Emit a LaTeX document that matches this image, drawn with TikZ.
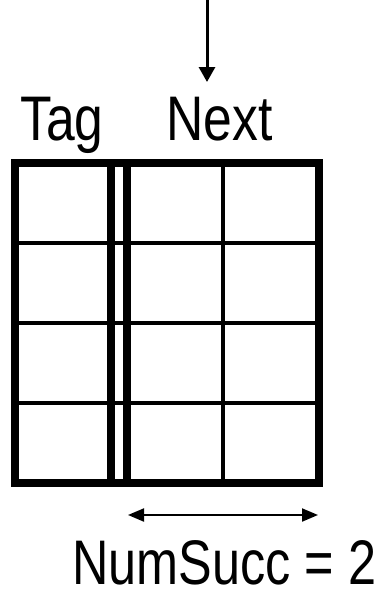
\documentclass[tikz,border=0pt]{standalone}
\usepackage{fontspec}
\setmainfont[FakeStretch=0.82]{Liberation Sans}
\newfontfamily\narrowerfont[FakeStretch=0.8]{Liberation Sans}
\usetikzlibrary{arrows.meta}
\begin{document}
\begin{tikzpicture}[x=1pt,y=-1pt,
  lbl/.style={inner sep=0pt, anchor=base west, font=\fontsize{63}{70}\selectfont},
  thick8/.style={line width=8pt},
  thin3/.style={line width=3.5pt},
  ptr/.style={line width=3pt, -{Triangle[length=15pt,width=16pt]}},
  span/.style={line width=2pt, {Triangle[length=16pt,width=13pt]}-{Triangle[length=16pt,width=13pt]}}]
\useasboundingbox (0,0) rectangle (386,589);
% thin inner grid
\draw[thin3] (15,243) -- (319,243);
\draw[thin3] (15,323) -- (319,323);
\draw[thin3] (15,403) -- (319,403);
\draw[thin3] (223,163) -- (223,483);
% thick outline and tag separators
\draw[thick8] (15,163) rectangle (319,483);
\draw[thick8] (111,163) -- (111,483);
\draw[thick8] (126.7,163) -- (126.7,483);
% labels
\node[lbl] (tag) at (20,140) {Tag};
\node[lbl] (next) at (166,140) {Next};
\node[lbl, text depth=0pt, font=\fontsize{63}{70}\narrowerfont] (num) at (72,584) {NumSucc = 2};
% arrows
\coordinate (src) at (207,0);
\coordinate (entry) at (207,82);
\draw[ptr] (src) -- (entry);
\coordinate (spanl) at (128,515);
\coordinate (spanr) at (318,515);
\draw[span] (spanl) -- (spanr);
\end{tikzpicture}
\end{document}
